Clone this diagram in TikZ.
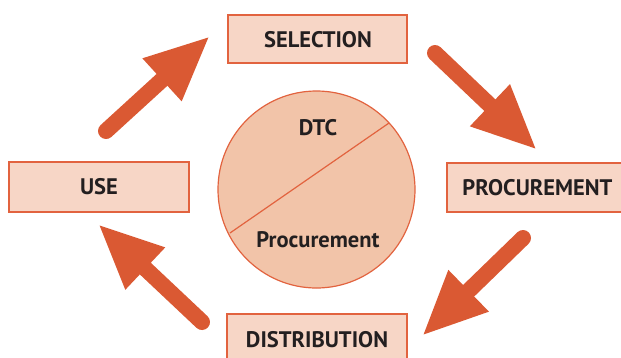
\documentclass[tikz,border=0pt]{standalone}
\usepackage{fontspec}
\setmainfont{PT Sans}
\usetikzlibrary{arrows.meta}
\definecolor{boxfill}{HTML}{F7D6C6}
\definecolor{boxline}{HTML}{E2633F}
\definecolor{circfill}{HTML}{F2C4A9}
\definecolor{arrowc}{HTML}{DA5933}
\definecolor{txt}{HTML}{231F20}
\tikzset{
  stagebox/.style={draw=boxline, fill=boxfill, line width=1.4pt},
  lab/.style={text=txt, font=\fontsize{22.5}{24}\selectfont\bfseries, inner sep=0pt},
  bigarrow/.style={draw=arrowc, line width=16pt, line cap=round,
    -{Triangle[length=65pt,width=53pt]}, arrowc}
}
\begin{document}
\begin{tikzpicture}[x=1pt,y=-1pt]
\useasboundingbox (0,0) rectangle (621,357);
% boxes
\draw[stagebox] (228,15) rectangle (407,63);
\draw[stagebox] (9,162) rectangle (189,212);
\draw[stagebox] (447,163) rectangle (625,212);
\draw[stagebox] (227,314) rectangle (407,362);
\node[lab] (sel) at (318,40) {SELECTION};
\node[lab] (use) at (99,187) {USE};
\node[lab] (proc) at (537.5,188) {PROCUREMENT};
\node[lab] (dist) at (317,340) {DISTRIBUTION};
% circle
\node[circle, draw=boxline, fill=circfill, line width=1.2pt, minimum size=197pt, inner sep=0pt] (c) at (316.5,189.5) {};
\coordinate (ch1) at (230,233);
\coordinate (ch2) at (389,123);
\draw[boxline, line width=1.2pt] (ch1) -- (ch2);
\node[lab] (dtc) at (318,128) {DTC};
\node[lab] (pr) at (318,240) {Procurement};
% arrows
\coordinate (a1s) at (106,131); \coordinate (a1e) at (210,36);
\coordinate (a2s) at (435,53);  \coordinate (a2e) at (537,150);
\coordinate (a3s) at (523,238); \coordinate (a3e) at (422,336);
\coordinate (a4s) at (202,322); \coordinate (a4e) at (98,224);
\draw[bigarrow] (a1s) -- (a1e);
\draw[bigarrow] (a2s) -- (a2e);
\draw[bigarrow] (a3s) -- (a3e);
\draw[bigarrow] (a4s) -- (a4e);
\end{tikzpicture}
\end{document}
